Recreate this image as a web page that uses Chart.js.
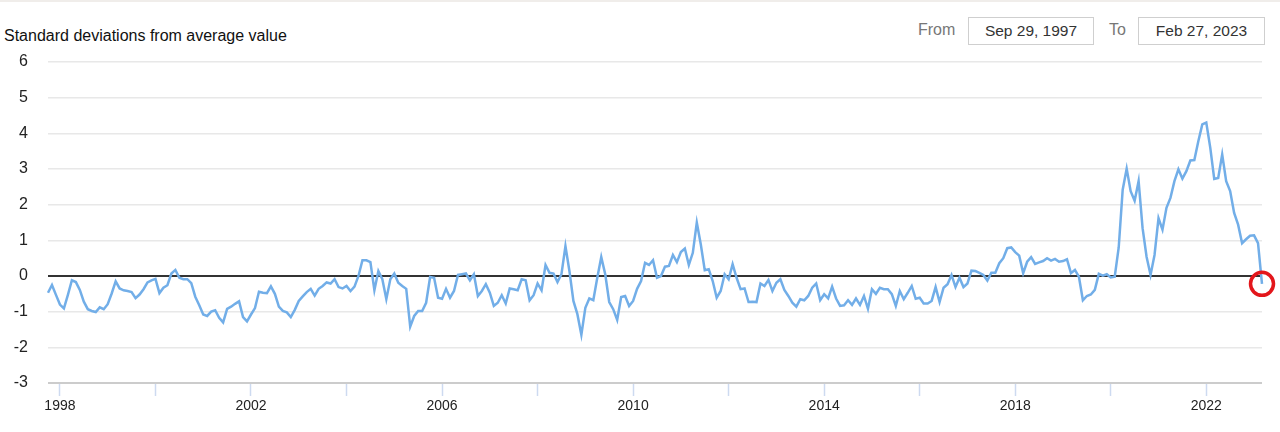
<!DOCTYPE html>
<html>
<head>
<meta charset="utf-8">
<script src="https://cdn.jsdelivr.net/npm/chart.js@4.4.1/dist/chart.umd.min.js"></script>
<style>
  html, body { margin: 0; padding: 0; background: #fff; }
  body { width: 1280px; height: 432px; position: relative; overflow: hidden; font-family: "Liberation Sans", Arial, sans-serif; }
  #topbar { position: absolute; left: 0; top: 0; width: 1280px; height: 2px; background: #f0edea; }
  #title { position: absolute; left: 4px; top: 27px; font-size: 16px; color: #111; white-space: nowrap; }
  .lbl { position: absolute; top: 21px; font-size: 16px; color: #777; }
  .box { position: absolute; top: 17px; height: 26px; border: 1px solid #cfcfcf; font-size: 15.5px; color: #333; text-align: center; line-height: 26px; box-sizing: content-box; }
  canvas { position: absolute; left: 0; top: 0; }
</style>
</head>
<body>
<div id="topbar"></div>
<div id="title">Standard deviations from average value</div>
<div class="lbl" style="left:918px;">From</div>
<div class="box" style="left:968px; width:124px;">Sep 29, 1997</div>
<div class="lbl" style="left:1109px;">To</div>
<div class="box" style="left:1138px; width:125px;">Feb 27, 2023</div>
<canvas id="c" width="1280" height="432"></canvas>
<script>
// Monthly series, first month Sep 1997, last month Feb 2023
const startYear = 1997;
const startMonth = 9;

const values1997_2003 = [
  -0.47, -0.25, -0.53, -0.80, -0.91, -0.53, -0.12, -0.17, -0.39, -0.72, -0.93, -0.98,
  -1.01, -0.88, -0.93, -0.79, -0.49, -0.15, -0.35, -0.40, -0.42, -0.45, -0.62, -0.52,
  -0.37, -0.18, -0.12, -0.08, -0.48, -0.33, -0.26, 0.07, 0.17, -0.05, -0.09, -0.09,
  -0.20, -0.58, -0.82, -1.08, -1.12, -1.00, -0.96, -1.17, -1.30, -0.92, -0.86, -0.78,
  -0.71, -1.15, -1.27, -1.08, -0.90, -0.44, -0.47, -0.48, -0.29, -0.50, -0.86, -0.98,
  -1.02, -1.15, -0.95, -0.70, -0.57, -0.45, -0.36, -0.55, -0.36, -0.28, -0.18, -0.21
];
const values2003_2010 = [
  -0.09, -0.31, -0.35, -0.28, -0.42, -0.30, 0.00, 0.44, 0.44, 0.39, -0.40, 0.14,
  -0.09, -0.65, -0.09, 0.07, -0.19, -0.28, -0.36, -1.42, -1.12, -0.98, -0.98, -0.75,
  -0.03, -0.05, -0.61, -0.64, -0.36, -0.61, -0.42, 0.03, 0.05, 0.07, -0.12, 0.05,
  -0.56, -0.42, -0.23, -0.47, -0.84, -0.75, -0.54, -0.77, -0.35, -0.37, -0.40, -0.09,
  -0.12, -0.68, -0.54, -0.21, -0.40, 0.31, 0.09, 0.07, -0.17, 0.05, 0.84, 0.14,
  -0.70, -1.07, -1.65, -0.89, -0.63, -0.68, -0.05, 0.53, 0.05, -0.73, -0.93, -1.23,
  -0.59, -0.56, -0.84, -0.70, -0.36, -0.14, 0.37, 0.31
];
const values2010_2017 = [
  0.44, -0.05, 0.00, 0.26, 0.28, 0.59, 0.39, 0.67, 0.77, 0.31, 0.65, 1.50,
  0.89, 0.16, 0.19, -0.14, -0.61, -0.42, 0.05, -0.09, 0.33, -0.05, -0.37, -0.35,
  -0.73, -0.72, -0.73, -0.21, -0.28, -0.11, -0.42, -0.19, -0.09, -0.39, -0.56, -0.75,
  -0.86, -0.65, -0.68, -0.56, -0.33, -0.21, -0.68, -0.51, -0.63, -0.30, -0.63, -0.84,
  -0.82, -0.68, -0.81, -0.63, -0.81, -0.56, -0.92, -0.37, -0.50, -0.33, -0.37, -0.37,
  -0.51, -0.84, -0.42, -0.65, -0.47, -0.28, -0.64, -0.61, -0.77, -0.77, -0.70, -0.31,
  -0.73, -0.33, -0.23, 0.03, -0.31, -0.05, -0.31, -0.21
];
const values2017_2023 = [
  0.15, 0.14, 0.09, 0.03, -0.13, 0.09, 0.09, 0.36, 0.50, 0.78, 0.80, 0.67,
  0.57, 0.08, 0.40, 0.53, 0.34, 0.38, 0.42, 0.50, 0.43, 0.48, 0.40, 0.42,
  0.47, 0.08, 0.17, -0.02, -0.68, -0.56, -0.52, -0.39, 0.06, 0.01, 0.05, -0.04,
  -0.02, 0.80, 2.42, 3.01, 2.38, 2.11, 2.66, 1.34, 0.54, 0.03, 0.59, 1.62,
  1.30, 1.91, 2.19, 2.66, 2.99, 2.73, 2.94, 3.24, 3.25, 3.78, 4.25, 4.30,
  3.60, 2.72, 2.75, 3.41, 2.66, 2.38, 1.77, 1.44, 0.92, 1.03, 1.13, 1.14,
  0.92, -0.22
];
const labeledYears = [1998, 2002, 2006, 2010, 2014, 2018, 2022];
const yTicks = [-3, -2, -1, 0, 1, 2, 3, 4, 5, 6];

const values = [].concat(values1997_2003, values2003_2010, values2010_2017, values2017_2023);
// Month-end positions in decimal years
const monthPos = values.map((v, i) => startYear + (startMonth + i) / 12);
const points = values.map((v, i) => ({ x: monthPos[i], y: v }));
const lastIdx = values.length - 1;

Chart.defaults.font.family = '"Liberation Sans", Arial, sans-serif';

new Chart(document.getElementById('c'), {
  type: 'line',
  data: {
    datasets: [{
      data: points,
      borderColor: '#72aee8',
      borderWidth: 2.5,
      tension: 0,
      clip: false,
      pointRadius: ctx => ctx.dataIndex === lastIdx ? 11.5 : 0,
      pointHoverRadius: 0,
      pointBorderColor: '#e3161b',
      pointBackgroundColor: 'rgba(0,0,0,0)',
      pointBorderWidth: 3.5
    }]
  },
  options: {
    responsive: false,
    animation: false,
    events: [],
    layout: { padding: { left: 0, right: 18, top: 62, bottom: 0 } },
    plugins: { legend: { display: false }, tooltip: { enabled: false } },
    scales: {
      x: {
        type: 'linear',
        min: monthPos[0],
        max: monthPos[lastIdx],
        afterFit: s => { s.height = 49; },
        border: { display: false },
        grid: {
          drawOnChartArea: false,
          drawTicks: true,
          tickLength: 13,
          tickColor: '#cddaf0',
          tickWidth: 1.5
        },
        ticks: {
          stepSize: 2,
          includeBounds: false,
          autoSkip: false,
          maxRotation: 0,
          padding: 2,
          color: '#222',
          font: { size: 14 },
          callback: v => labeledYears.includes(v) ? String(v) : ''
        }
      },
      y: {
        min: yTicks[0],
        max: yTicks[yTicks.length - 1],
        afterFit: s => { s.width = 48; },
        afterBuildTicks: s => { s.ticks = yTicks.map(v => ({ value: v })); },
        border: { display: false },
        grid: {
          drawTicks: false,
          color: ctx => ctx.tick.value === 0 ? '#333333' : (ctx.tick.value === -3 ? '#cccccc' : '#e8e8e8'),
          lineWidth: ctx => (ctx.tick.value === 0 || ctx.tick.value === -3) ? 2 : 1.5
        },
        ticks: {
          padding: 20,
          color: '#222',
          font: { size: 16 }
        }
      }
    }
  }
});
</script>
</body>
</html>
